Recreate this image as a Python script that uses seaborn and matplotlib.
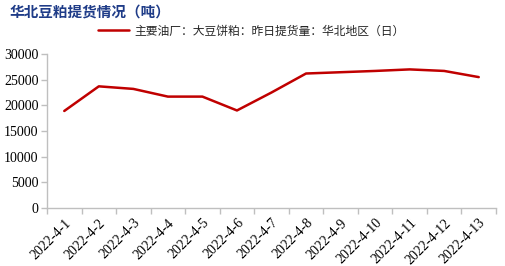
import matplotlib
matplotlib.use("Agg")
import matplotlib.pyplot as plt
import seaborn as sns
import pandas as pd

categories = ["2022-4-1", "2022-4-2", "2022-4-3", "2022-4-4", "2022-4-5", "2022-4-6", "2022-4-7",
              "2022-4-8", "2022-4-9", "2022-4-10", "2022-4-11", "2022-4-12", "2022-4-13"]
values = [18900, 23700, 23200, 21700, 21700, 19000, 22500, 26200, 26450, 26700, 27000, 26700, 25500]
series_name = "主要油厂：大豆饼粕：昨日提货量：华北地区（日）"
title = "华北豆粕提货情况（吨）"
yticks = [0, 5000, 10000, 15000, 20000, 25000, 30000]

sns.set_theme(style="white")
plt.rcParams['font.family'] = ['Noto Sans CJK SC', 'DejaVu Sans']

df = pd.DataFrame({"date": categories, "value": values, "idx": range(len(categories))})

fig = plt.figure(figsize=(5.06, 2.66), dpi=100)
ax = fig.add_axes([47/506, 1-208/266, (496-47)/506, (208-54)/266])

sns.lineplot(data=df, x="idx", y="value", ax=ax, color="#C00000", linewidth=1.8, label=series_name)

ax.set_xlim(-0.5, len(categories) - 0.5)
ax.set_ylim(0, 30000)
ax.set_yticks(yticks)
ax.set_yticklabels([str(v) for v in yticks], family="Liberation Serif", fontsize=10, color="#000000")
ax.set_xticks([i for i in range(len(categories))])
ax.set_xticklabels(categories, rotation=45, ha="right", rotation_mode="anchor",
                   family="Liberation Serif", fontsize=10, color="#000000")
ax.set_xticks([i - 0.5 for i in range(len(categories) + 1)], minor=True)
ax.tick_params(axis="x", which="major", length=0, pad=6)
ax.tick_params(axis="x", which="minor", length=4, color="#BFBFBF", width=1, direction="out", bottom=True)
ax.tick_params(axis="y", length=4, color="#BFBFBF", width=1, direction="out", left=True, pad=2)
ax.set_xlabel("")
ax.set_ylabel("")
for s in ["top", "right"]:
    ax.spines[s].set_visible(False)
for s in ["left", "bottom"]:
    ax.spines[s].set_color("#BFBFBF")
    ax.spines[s].set_linewidth(1)
ax.grid(False)

leg = ax.legend(loc="center left", bbox_to_anchor=(98/506, 1-31/266), bbox_transform=fig.transFigure,
                frameon=False, fontsize=8.5, handlelength=2.6, handletextpad=0.5, borderpad=0, borderaxespad=0)

fig.text(10/506, 1-13/266, title, fontsize=10.5, fontweight="bold", color="#1F3C88",
         va="center", ha="left")

fig.savefig("out.png", dpi=100)
